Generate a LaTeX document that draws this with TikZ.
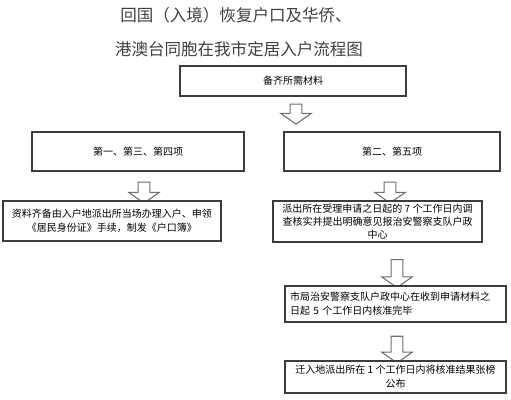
\documentclass[tikz,border=0pt]{standalone}
\usepackage{fontspec}
\usepackage{tikz}
\usetikzlibrary{shapes.arrows}
\setmainfont{Noto Sans CJK SC}
\definecolor{edge}{RGB}{60, 60, 60}
\definecolor{arrowgray}{RGB}{110, 110, 110}

\tikzset{
  box/.style={draw=edge, line width=0.8pt, fill=white, inner sep=1pt,
    align=center, font=\fontsize{7.5}{10.5}\selectfont},
  downarrow/.style={single arrow, draw=arrowgray, line width=0.8pt, fill=white,
    shape border rotate=270, inner sep=4pt, minimum width=18pt,
    single arrow tip angle=110},
  title/.style={inner sep=0.75pt, font=\fontsize{12.4}{14}\selectfont, text=black!75}
}

\begin{document}
\begin{tikzpicture}[x=0.75pt,y=0.75pt,yscale=-1,xscale=1]
\useasboundingbox (0,0) rectangle (511,400);

% Text Node
\node [title] (t1) at (236,15) {回国（入境）恢复户口及华侨、};
% Text Node
\node [title] (t2) at (239,49) {港澳台同胞在我市定居入户流程图};

%Shape: Rectangle
\node [box, minimum width=169.5pt, minimum height=22.5pt] (b1) at (293,81) {备齐所需材料};
%Shape: Down Arrow
\node [downarrow, minimum height=15pt] (a1) at (296,112) {};

%Shape: Rectangle
\node [box, minimum width=159pt, minimum height=29.25pt] (l2) at (138,151.5) {第一、第三、第四项};
%Shape: Rectangle
\node [box, minimum width=162pt, minimum height=29.25pt] (r2) at (392,151.5) {第二、第五项};

%Shape: Down Arrow
\node [downarrow, minimum height=15.75pt] (al) at (144,190.5) {};
%Shape: Down Arrow
\node [downarrow, minimum height=15.75pt] (ar) at (390,190.5) {};

%Shape: Rectangle
\node [box, minimum width=163.5pt, minimum height=30pt] (l3) at (112,221)
  {资料齐备由入户地派出所当场办理入户、申领\\《居民身份证》手续，制发《户口簿》};
%Shape: Rectangle
\node [box, minimum width=156.75pt, minimum height=30.75pt, font=\fontsize{7.5}{9.75}\selectfont] (r3) at (377.5,221.5)
  {派出所在受理申请之日起的 7 个工作日内调\\查核实并提出明确意见报治安警察支队户政\\中心};

%Shape: Down Arrow
\node [downarrow, minimum height=21pt] (a2) at (397,271.5) {};
%Shape: Rectangle
\node [box, minimum width=165.75pt, minimum height=27pt, align=left, text width=158pt] (b4) at (395.5,304)
  {市局治安警察支队户政中心在收到申请材料之\\日起 5 个工作日内核准完毕};

%Shape: Down Arrow
\node [downarrow, minimum height=20pt] (a3) at (397,347.5) {};
%Shape: Rectangle
\node [box, minimum width=165.75pt, minimum height=24pt] (b5) at (395.5,377)
  {迁入地派出所在 1 个工作日内将核准结果张榜\\公布};

\end{tikzpicture}
\end{document}
